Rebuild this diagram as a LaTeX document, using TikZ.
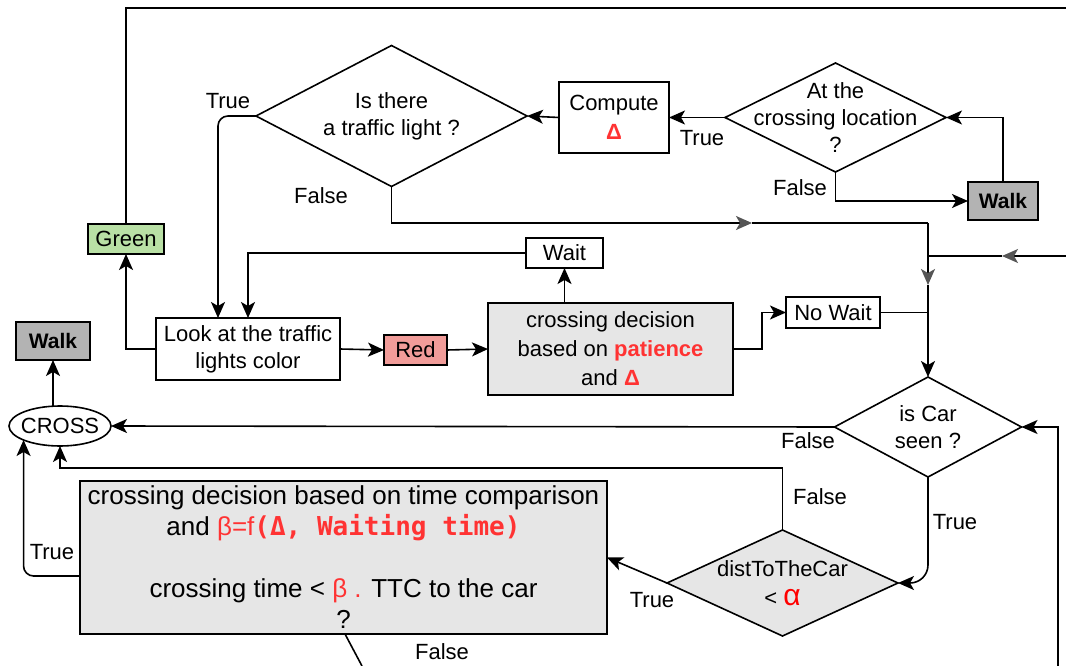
\documentclass[tikz,border=0pt]{standalone}
\usepackage{fontspec}
\setmainfont{Liberation Sans}
\newfontfamily\monob{DejaVu Sans Mono}
\usetikzlibrary{shapes.geometric,arrows.meta,calc}
\definecolor{myred}{HTML}{FF3333}
\definecolor{alph}{HTML}{FF0000}
\definecolor{grayfill}{HTML}{E6E6E6}
\definecolor{walkfill}{HTML}{B3B3B3}
\definecolor{greenfill}{HTML}{B9E0A5}
\definecolor{redfill}{HTML}{F19C99}
\definecolor{tipgray}{HTML}{555555}
\tikzset{
  box/.style={draw, line width=1.6pt, inner sep=0pt, outer sep=0pt, align=center},
  dia/.style={draw, diamond, line width=1.6pt, inner sep=0pt, outer sep=0pt},
  lbl/.style={inner sep=0pt, align=center},
  conn/.style={line width=1.6pt},
  arr/.style={conn, -{Stealth[length=16pt 0,width=14pt 0,inset=4pt]}},
  garr/.style={conn, -{Stealth[length=16pt 0,width=14pt 0,inset=4pt,color=tipgray]}},
}
\begin{document}
\begin{tikzpicture}[x=1pt,y=-1pt, every node/.style={font=\fontsize{22}{27}\selectfont}]
\useasboundingbox (0,0) rectangle (1066,666);

% boxes
\node[box, minimum width=110, minimum height=71, font=\fontsize{22}{29}\selectfont] (compute) at (614,117.5) {Compute\\{\bfseries\color{myred}Δ}};
\node[box, fill=walkfill, minimum width=70, minimum height=38, font=\fontsize{21}{25}\selectfont\bfseries] (walk1) at (1003,201) {Walk};
\node[box, fill=walkfill, minimum width=74, minimum height=38, font=\fontsize{21}{25}\selectfont\bfseries] (walk2) at (53,341) {Walk};
\node[box, fill=greenfill, minimum width=76, minimum height=30] (green) at (126,239) {Green};
\node[box, minimum width=184, minimum height=62] (look) at (248,349) {Look at the traffic\\lights color};
\node[box, fill=redfill, minimum width=63, minimum height=30] (red) at (415.5,350) {Red};
\node[box, fill=grayfill, minimum width=245, minimum height=92, font=\fontsize{22}{29}\selectfont] (dec) at (610.5,349) {crossing decision\\based on {\bfseries\color{myred}patience}\\and {\bfseries\color{myred}Δ}};
\node[box, minimum width=77, minimum height=30] (wait) at (564.5,253) {Wait};
\node[box, minimum width=94, minimum height=31] (nowait) at (833,312.5) {No Wait};
\node[box, fill=grayfill, minimum width=527, minimum height=153, font=\fontsize{26}{31}\selectfont] (big) at (343.5,557.5)
  {crossing decision based on time comparison\\and {\color{myred}β=f}{\monob\bfseries\color{myred}(Δ, Waiting time)}\\[31pt]crossing time < {\color{myred}β .} TTC to the car\\?};
\node[draw, ellipse, line width=1.6pt, inner sep=0pt, outer sep=0pt, minimum width=102, minimum height=40, label={center:CROSS}] (cross) at (60,426) {};

% diamonds
\node[dia, minimum width=271, minimum height=141, label={[lbl]center:Is there\\a traffic light ?}] (d1) at (391.5,116) {};
\node[dia, minimum width=221, minimum height=109, label={[lbl]center:At the\\crossing location\\?}] (d2) at (835.5,117.5) {};
\node[dia, minimum width=187, minimum height=100, label={[lbl]center:is Car\\seen ?}] (d3) at (928,427) {};
\node[dia, fill=grayfill, minimum width=231, minimum height=106, label={[lbl, font=\fontsize{22}{29}\selectfont]center:distToTheCar\\< {\color{alph}\fontsize{30}{29}\selectfont α}}] (d4) at (782.5,583) {};

% edge labels
\node[lbl] (t1) at (228,101) {True};
\node[lbl] (f1) at (321,196) {False};
\node[lbl] (t2) at (702,138) {True};
\node[lbl] (f2) at (800,188) {False};
\node[lbl] (f3) at (808,441) {False};
\node[lbl] (t3) at (955,522) {True};
\node[lbl] (f4) at (820,497) {False};
\node[lbl] (t4) at (652,600) {True};
\node[lbl] (t5) at (52,552) {True};
\node[lbl] (f5) at (442,652) {False};

% free ends and waypoints
\coordinate (topR) at (1066,8);
\coordinate (g1) at (752,223);
\coordinate (j1) at (928,223);
\coordinate (g2) at (928,285);
\coordinate (r1) at (1066,256);
\coordinate (g3) at (1002,256);
\coordinate (b1) at (1058,666);
\coordinate (b2) at (362,666);

% connectors
\draw[arr] (compute.west) -- (d1.east);
\draw[arr] (d2.west) -- (compute.east);
\draw[arr] (d2.south) |- (walk1.west);
\draw[arr] (walk1.north) |- (d2.east);
\draw[arr, rounded corners=10] (d1.west) -| ([xshift=-30pt]look.north);
\draw[arr] (wait.west) -| (look.north);
\draw[arr] (look.west) -| (green.south);
\draw[conn] (green.north) |- (topR);
\draw[arr] (look.east) -- (red.west);
\draw[arr] (red.east) -- (dec.west);
\draw[arr] (wait.south |- dec.north) -- (wait.south);
\draw[arr] (dec.east) -- ++(29,0) |- (nowait.west);
\draw[conn] (nowait.east) -- (nowait.east -| d3.north);
\draw[garr] (d1.south) |- (g1);
\draw[conn] (g1) -- (j1);
\draw[garr] (j1) -- (g2);
\draw[arr] (g2) -- (d3.north);
\draw[garr] (r1) -- (g3);
\draw[conn] (g3) -- (g3 -| d3.north);
\draw[arr] (d3.west) -- (cross.east);
\draw[arr] (b1) |- (d3.east);
\draw[arr, rounded corners=18] (d3.south) |- (d4.east);
\draw[arr] (d4.west) -- (big.east);
\draw[arr] (d4.north) -- ++(0,-62) -| (cross.south);
\draw[arr, rounded corners=10] ([yshift=-18.5pt]big.west) -| (cross.201);
\draw[arr] (walk2.south |- cross.north) -- (walk2.south);
\draw[conn] ([xshift=1.5pt]big.south) -- (b2);
\end{tikzpicture}
\end{document}
